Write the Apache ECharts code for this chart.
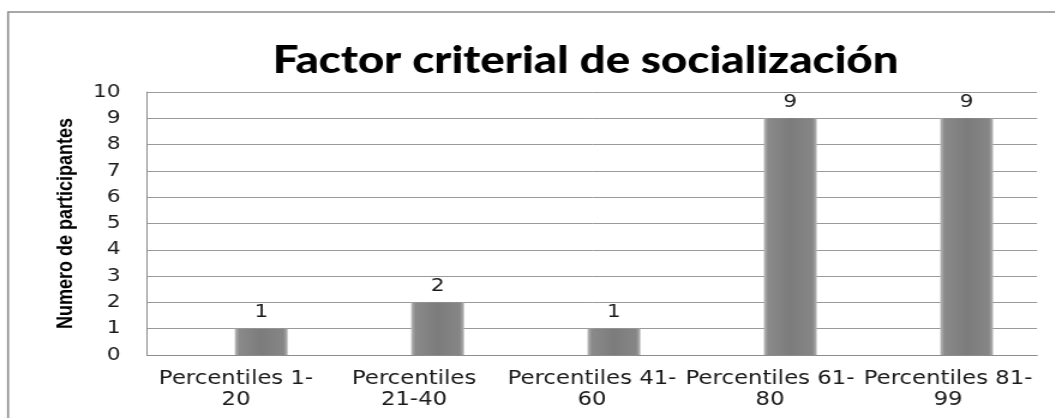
<!DOCTYPE html>
<html>
<head>
<meta charset="utf-8">
<script src="https://cdn.jsdelivr.net/npm/echarts@6/dist/echarts.min.js"></script>
<style>
  html, body { margin: 0; padding: 0; background: #fff; overflow: hidden; }
  /* the original picture is stretched sideways, so we draw narrow and widen it */
  #chart { width: 879.2px; height: 418px; transform: scaleX(1.2); transform-origin: 0 0; }
</style>
</head>
<body>
<div id="chart"></div>
<script>
var categories = ['Percentiles 1-\n20', 'Percentiles\n21-40', 'Percentiles 41-\n60', 'Percentiles 61-\n80', 'Percentiles 81-\n99'];
var participantes = [1, 2, 1, 9, 9];
var yMin = 0, yMax = 10, yStep = 1;

var dom = document.getElementById('chart');
var myChart = echarts.init(dom);

var tickFont = 'DejaVu Sans, Verdana, sans-serif';

var option = {
    animation: false,
    backgroundColor: '#ffffff',
    title: {
        text: 'Factor criterial de socialización',
        left: 483,
        textAlign: 'center',
        top: 37,
        textStyle: {
            fontFamily: 'Lato, Open Sans, sans-serif',
            fontWeight: 900,
            fontSize: 38,
            color: '#000'
        }
    },
    graphic: [{
        type: 'rect',
        shape: { x: 6.7, y: 12, width: 1000, height: 600 },
        style: { fill: 'none', stroke: '#8a8a8a', lineWidth: 1.6 },
        silent: true
    }],
    grid: [
        { left: 122.5, top: 92, width: 741.7, bottom: 63 },
        // bars sit a little to the right, like the 3D depth offset in the original
        { left: 144.2, top: 92, width: 741.7, bottom: 63 }
    ],
    xAxis: [{
        type: 'category',
        gridIndex: 0,
        data: categories,
        axisLine: { lineStyle: { color: '#8c8c8c', width: 1 } },
        axisTick: { show: false },
        axisLabel: {
            interval: 0,
            margin: 14,
            fontFamily: tickFont,
            fontSize: 19,
            lineHeight: 21,
            color: '#1a1a1a'
        }
    }, {
        type: 'category',
        gridIndex: 1,
        data: categories,
        show: false
    }],
    yAxis: [{
        type: 'value',
        gridIndex: 0,
        min: yMin,
        max: yMax,
        interval: yStep,
        name: 'Numero de participantes',
        nameLocation: 'middle',
        nameRotate: 90,
        nameGap: 58,
        nameTextStyle: {
            fontFamily: 'Liberation Sans Narrow, Arial Narrow, Liberation Sans, sans-serif',
            fontWeight: 'bold',
            fontSize: 18,
            color: '#000'
        },
        axisLine: { show: true, lineStyle: { color: '#8c8c8c', width: 1 } },
        axisTick: { show: false },
        splitLine: { lineStyle: { color: '#9a9a9a', width: 1 } },
        axisLabel: {
            margin: 22,
            fontFamily: tickFont,
            fontSize: 18,
            color: '#1a1a1a'
        }
    }, {
        type: 'value',
        gridIndex: 1,
        min: yMin,
        max: yMax,
        interval: yStep,
        show: false,
        splitLine: { show: false }
    }],
    series: [{
        name: 'Numero de participantes',
        type: 'bar',
        xAxisIndex: 1,
        yAxisIndex: 1,
        barWidth: 44,
        data: participantes,
        itemStyle: {
            color: new echarts.graphic.LinearGradient(0, 0, 1, 0, [
                { offset: 0, color: '#bababa' },
                { offset: 0.08, color: '#8a8a8a' },
                { offset: 0.5, color: '#7c7c7c' },
                { offset: 0.92, color: '#868686' },
                { offset: 1, color: '#b3b3b3' }
            ])
        },
        label: {
            show: true,
            position: 'top',
            distance: 7,
            fontFamily: tickFont,
            fontSize: 18,
            color: '#1a1a1a'
        }
    }]
};

if (option && typeof option === 'object') {
    myChart.setOption(option);
}
</script>
</body>
</html>
